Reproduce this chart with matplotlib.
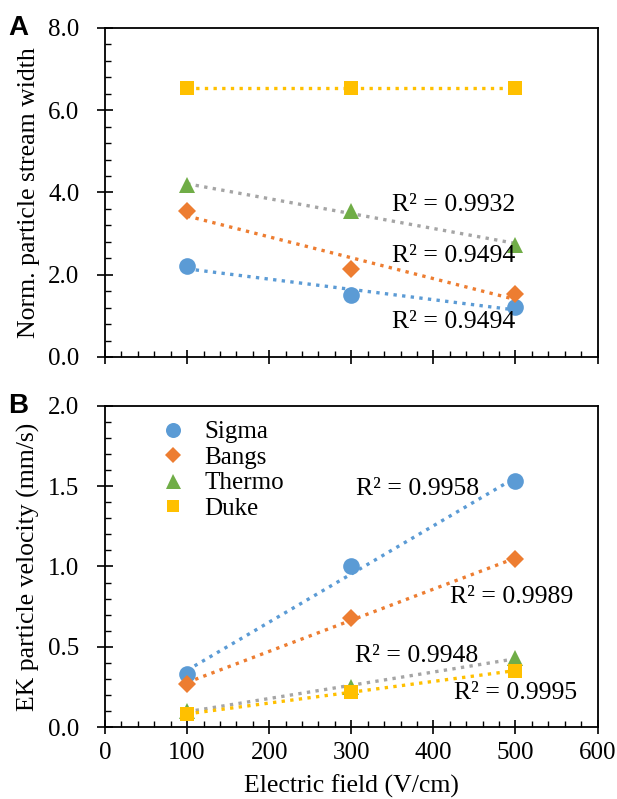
import numpy as np
import matplotlib
matplotlib.use("Agg")
import matplotlib.pyplot as plt
from matplotlib.ticker import MultipleLocator, FormatStrFormatter

plt.rcParams['font.family'] = ['Liberation Serif', 'DejaVu Serif']

field = [100, 300, 500]
series = ["Sigma", "Bangs", "Thermo", "Duke"]

width_sigma = [2.21, 1.51, 1.21]
width_bangs = [3.56, 2.15, 1.53]
width_thermo = [4.18, 3.55, 2.73]
width_duke = [6.55, 6.55, 6.55]

vel_sigma = [0.33, 1.00, 1.53]
vel_bangs = [0.27, 0.68, 1.045]
vel_thermo = [0.10, 0.25, 0.43]
vel_duke = [0.08, 0.22, 0.35]

r2_top = ["R² = 0.9932", "R² = 0.9494", "R² = 0.9494"]
r2_bottom = ["R² = 0.9958", "R² = 0.9989", "R² = 0.9948", "R² = 0.9995"]

colors = {"Sigma": "#5B9BD5", "Bangs": "#ED7D31", "Thermo": "#70AD47", "Duke": "#FFC000"}
trend_colors = {"Sigma": "#5B9BD5", "Bangs": "#ED7D31", "Thermo": "#A5A5A5", "Duke": "#FFC000"}
markers = {"Sigma": "o", "Bangs": "D", "Thermo": "^", "Duke": "s"}
msizes = {"Sigma": 12, "Bangs": 9.5, "Thermo": 12, "Duke": 10}

FS = 18

fig = plt.figure(figsize=(6.17, 7.99), dpi=100)
axA = fig.add_axes([0.1702, 0.5532, 0.7982, 0.4118])
axB = fig.add_axes([0.1702, 0.0901, 0.7982, 0.4018])

def draw(ax, data):
    x = np.array(field, dtype=float)
    for name, y in data:
        y = np.array(y, dtype=float)
        k, b = np.polyfit(x, y, 1)
        ax.plot(x, k * x + b, linestyle=(0, (1, 1.6)), color=trend_colors[name],
                lw=2.4, zorder=2)
    for name, y in data:
        ax.plot(field, y, linestyle='none', marker=markers[name], color=colors[name],
                markersize=msizes[name], markeredgewidth=0, label=name, zorder=3)
    ax.set_xlim(0, 600)
    ax.xaxis.set_major_locator(MultipleLocator(100))
    ax.xaxis.set_minor_locator(MultipleLocator(20))
    ax.tick_params(axis='x', which='major', direction='inout', length=9.5, width=1.2,
                   labelsize=FS, pad=6)
    ax.tick_params(axis='x', which='minor', direction='in', length=4.5, width=1.0)
    ax.tick_params(axis='y', which='major', direction='inout', length=11, width=1.2,
                   labelsize=FS, pad=13)
    ax.tick_params(axis='y', which='minor', direction='in', length=4.5, width=1.0)
    for s in ax.spines.values():
        s.set_linewidth(1.3)
        s.set_color('black')

draw(axA, [("Sigma", width_sigma), ("Bangs", width_bangs), ("Thermo", width_thermo), ("Duke", width_duke)])
axA.set_ylim(0, 8)
axA.yaxis.set_major_locator(MultipleLocator(2))
axA.yaxis.set_minor_locator(MultipleLocator(0.4))
axA.yaxis.set_major_formatter(FormatStrFormatter('%.1f'))
axA.tick_params(axis='x', labelbottom=False)
axA.set_ylabel("Norm. particle stream width", fontsize=FS + 0.5, labelpad=6)
for txt, (tx, ty) in zip(r2_top, [(350, 3.69), (350, 2.46), (350, 0.85)]):
    axA.text(tx, ty, txt, fontsize=FS + 0.5, ha='left', va='center')

draw(axB, [("Sigma", vel_sigma), ("Bangs", vel_bangs), ("Thermo", vel_thermo), ("Duke", vel_duke)])
axB.set_ylim(0, 2)
axB.yaxis.set_major_locator(MultipleLocator(0.5))
axB.yaxis.set_minor_locator(MultipleLocator(0.1))
axB.yaxis.set_major_formatter(FormatStrFormatter('%.1f'))
axB.set_ylabel("EK particle velocity (mm/s)", fontsize=FS + 0.5, labelpad=6)
axB.set_xlabel("Electric field (V/cm)", fontsize=FS + 0.5, labelpad=8)
for txt, (tx, ty) in zip(r2_bottom, [(306, 1.48), (420, 0.81), (304, 0.44), (425, 0.21)]):
    axB.text(tx, ty, txt, fontsize=FS + 0.5, ha='left', va='center')
leg = axB.legend(loc='upper left', bbox_to_anchor=(0.093, 0.985), frameon=False, fontsize=FS,
                 handletextpad=0.75, labelspacing=0.12, borderaxespad=0, handlelength=1.0)
for h in leg.legend_handles:
    h.set_markersize(h.get_markersize() * 0.9)

fig.text(0.013, 0.965, "A", fontsize=20, fontweight='bold', family='Liberation Sans', va='center')
fig.text(0.013, 0.492, "B", fontsize=20, fontweight='bold', family='Liberation Sans', va='center')

fig.savefig("out.png", dpi=100)
